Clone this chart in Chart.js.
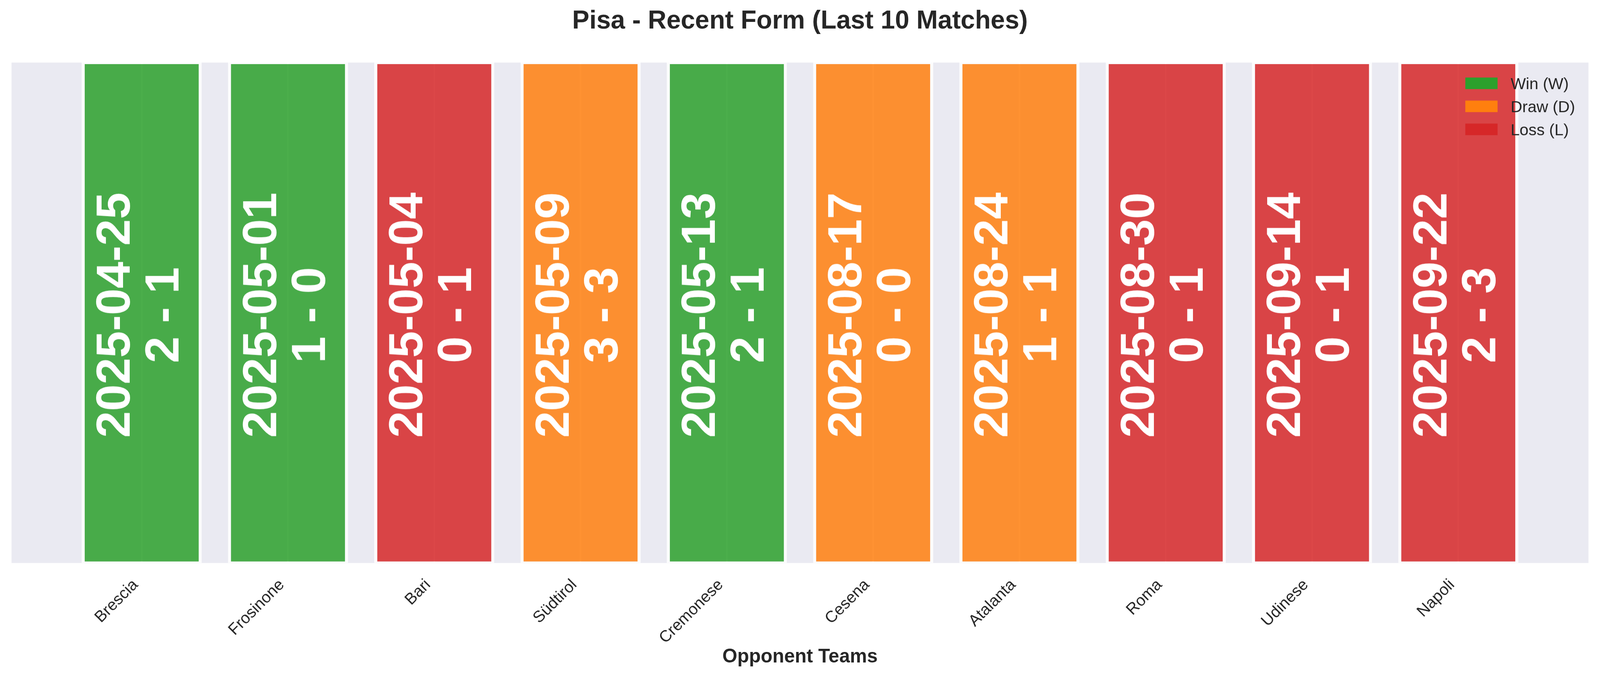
<!DOCTYPE html>
<html>
<head>
<meta charset="utf-8">
<script src="https://cdn.jsdelivr.net/npm/chart.js@4.4.1/dist/chart.umd.min.js"></script>
<style>
  html, body { margin: 0; padding: 0; background: #ffffff; overflow: hidden; }
  #formChart { display: block; }
</style>
</head>
<body>
<canvas id="formChart"></canvas>
<script>
// match data, oldest first
const opponents = ["Brescia", "Frosinone", "Bari", "Südtirol", "Cremonese", "Cesena", "Atalanta", "Roma", "Udinese", "Napoli"];
const matchDates = ["2025-04-25", "2025-05-01", "2025-05-04", "2025-05-09", "2025-05-13", "2025-08-17", "2025-08-24", "2025-08-30", "2025-09-14", "2025-09-22"];
const scores = ["2 - 1", "1 - 0", "0 - 1", "3 - 3", "2 - 1", "0 - 0", "1 - 1", "0 - 1", "0 - 1", "2 - 3"];
const results = ["W", "W", "L", "D", "W", "D", "D", "L", "L", "L"];
const barHeights = [1, 1, 1, 1, 1, 1, 1, 1, 1, 1];

const resultTypes = ["W", "D", "L"];
const resultLabels = ["Win (W)", "Draw (D)", "Loss (L)"];
const resultColors = ["#2ca02c", "#ff7f0e", "#d62728"];
const resultFills = ["rgba(44,160,44,0.85)", "rgba(255,127,14,0.85)", "rgba(214,39,40,0.85)"];

// the layout was measured on a 4170 x 1769 picture, scale it to the real viewport
const S = Math.min(window.innerWidth / 4170, window.innerHeight / 1769);
const px = (v) => v * S;

const canvas = document.getElementById("formChart");
canvas.style.width = px(4170) + "px";
canvas.style.height = px(1769) + "px";

const FONT = '"Liberation Sans", Arial, Helvetica, sans-serif';
Chart.defaults.font.family = FONT;
Chart.defaults.color = "#262626";

function buildDatasets() {
  return resultTypes.map((type, t) => ({
    label: resultLabels[t],
    data: opponents
      .map((team, i) => ({ x: i, y: barHeights[i], team: team, idx: i }))
      .filter((p) => results[p.idx] === type),
    backgroundColor: resultFills[t],
    borderColor: "rgba(255,255,255,0.85)",
    borderWidth: { left: px(8), right: px(8), top: px(4), bottom: px(4) },
    borderSkipped: false,
    grouped: false,
    barPercentage: 0.821,
    categoryPercentage: 1,
  }));
}

const plotBackground = {
  id: "plotBackground",
  beforeDraw(chart) {
    const { ctx, chartArea: a } = chart;
    ctx.save();
    ctx.fillStyle = "#ffffff";
    ctx.fillRect(0, 0, chart.width, chart.height);
    ctx.fillStyle = "#EAEAF2";
    ctx.fillRect(a.left, a.top, a.right - a.left, a.bottom - a.top);
    ctx.restore();
  },
};

const barText = {
  id: "barText",
  afterDatasetsDraw(chart) {
    const { ctx, chartArea: a } = chart;
    const midY = (a.top + a.bottom) / 2 + px(6);
    ctx.save();
    ctx.fillStyle = "#ffffff";
    ctx.font = "bold " + px(125) + "px " + FONT;
    ctx.textAlign = "center";
    ctx.textBaseline = "alphabetic";
    chart.data.datasets.forEach((ds, d) => {
      const meta = chart.getDatasetMeta(d);
      meta.data.forEach((bar, j) => {
        const i = ds.data[j].idx;
        ctx.save();
        ctx.translate(bar.x, midY);
        ctx.rotate(-Math.PI / 2);
        ctx.fillText(matchDates[i], 0, px(-31));
        ctx.fillText(scores[i], 0, px(96));
        ctx.restore();
      });
    });
    ctx.restore();
  },
};

const cornerLegend = {
  id: "cornerLegend",
  afterDraw(chart) {
    const { ctx } = chart;
    ctx.save();
    ctx.font = px(42) + "px " + FONT;
    ctx.textAlign = "left";
    ctx.textBaseline = "alphabetic";
    resultLabels.forEach((label, t) => {
      const top = px(202 + t * 60);
      ctx.fillStyle = resultColors[t];
      ctx.fillRect(px(3819), top, px(84), px(30));
      ctx.fillStyle = "#262626";
      ctx.fillText(label, px(3937), top + px(30));
    });
    ctx.restore();
  },
};

new Chart(canvas.getContext("2d"), {
  type: "bar",
  data: { datasets: buildDatasets() },
  plugins: [plotBackground, barText, cornerLegend],
  options: {
    responsive: false,
    maintainAspectRatio: false,
    animation: false,
    layout: { padding: { left: px(30), right: px(30), top: 0, bottom: 0 } },
    plugins: {
      legend: { display: false },
      tooltip: { enabled: false },
      title: {
        display: true,
        text: "Pisa - Recent Form (Last 10 Matches)",
        color: "#262626",
        font: { size: px(67), weight: "bold", lineHeight: 1.2 },
        padding: { top: px(16), bottom: px(66.6) },
      },
    },
    scales: {
      x: {
        type: "linear",
        min: -0.89,
        max: 9.89,
        offset: false,
        afterBuildTicks: (scale) => {
          scale.ticks = opponents.map((_, i) => ({ value: i }));
        },
        afterFit: (scale) => {
          scale.height = px(302);
        },
        ticks: {
          autoSkip: false,
          minRotation: 45,
          maxRotation: 45,
          padding: px(33),
          labelOffset: px(-16),
          color: "#262626",
          font: { size: px(41.7) },
          callback: (value) => opponents[value],
        },
        grid: {
          offset: false,
          color: "#ffffff",
          lineWidth: px(4),
          drawTicks: false,
        },
        border: { display: false },
        title: {
          display: true,
          text: "Opponent Teams",
          color: "#262626",
          font: { size: px(50), weight: "bold", lineHeight: 1.2 },
          padding: { top: 0, bottom: px(27) },
        },
      },
      y: {
        display: false,
        min: 0,
        max: 1,
      },
    },
  },
});
</script>
</body>
</html>
